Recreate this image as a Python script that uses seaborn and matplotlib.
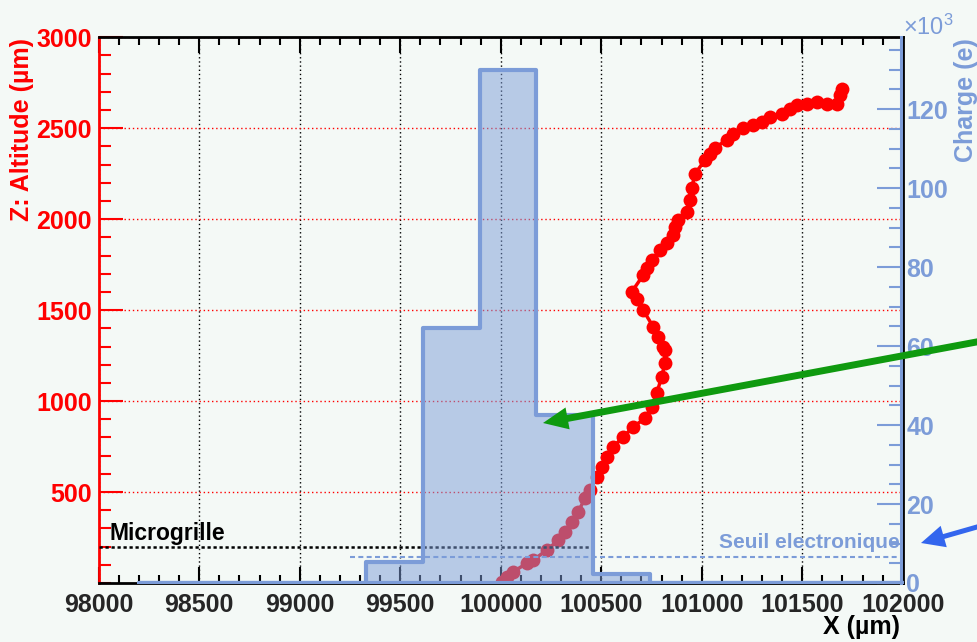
import numpy as np
import matplotlib
matplotlib.use("Agg")
import matplotlib.pyplot as plt
from matplotlib.patches import FancyArrowPatch
from matplotlib.ticker import MultipleLocator, FuncFormatter
import seaborn as sns

# Reconstructed electron track: X position and altitude Z (micrometres)
track_x = [100005, 100030, 100063, 100129, 100162, 100229, 100287, 100320, 100353,
           100386, 100419, 100444, 100478, 100502, 100527, 100560, 100610, 100660,
           100718, 100751, 100776, 100801, 100817, 100817, 100809, 100784, 100759,
           100709, 100677, 100652, 100709, 100726, 100751, 100793, 100826, 100859,
           100867, 100884, 100925, 100942, 100950, 100967, 101016, 101041, 101066,
           101124, 101157, 101207, 101257, 101298, 101340, 101398, 101439, 101473,
           101522, 101572, 101622, 101672, 101688, 101696]
track_z = [4, 35, 62, 108, 126, 181, 236, 282, 337,
           392, 465, 511, 584, 639, 694, 749, 804, 859,
           905, 969, 1042, 1134, 1207, 1280, 1298, 1353, 1408,
           1500, 1564, 1601, 1692, 1729, 1775, 1830, 1867, 1912,
           1958, 1995, 2040, 2105, 2169, 2251, 2324, 2361, 2394,
           2434, 2471, 2499, 2517, 2535, 2562, 2581, 2608, 2627,
           2636, 2645, 2636, 2636, 2682, 2718]

# Charge collected on each readout pad (electrons)
pad_edges = [98200, 98483, 98765, 99048, 99330, 99613, 99895, 100178,
             100460, 100743, 101025, 101308, 101590, 101873, 102155]
pad_charge = [0, 0, 0, 0, 5300, 64600, 130000, 42500, 2300, 0, 0, 0, 0, 0]

# Micromesh height and electronics threshold
microgrille_z = 200
microgrille_x = [98000, 100478]
threshold_charge = 6500
threshold_x = [99250, 102000]

x_ticks = [98000, 98500, 99000, 99500, 100000, 100500, 101000, 101500, 102000]
z_ticks = [500, 1000, 1500, 2000, 2500, 3000]
charge_ticks = [0, 20000, 40000, 60000, 80000, 100000, 120000]

BG = "#f4f9f6"
RED = "#ff0000"
BLUE = "#7c9cd8"
GREEN = "#0f9a0f"
ARROW_BLUE = "#3366ee"

sns.set_style("white", {"axes.facecolor": BG, "figure.facecolor": BG})
plt.rcParams["font.family"] = ["Liberation Sans", "DejaVu Sans"]
plt.rcParams["font.weight"] = "bold"
plt.rcParams["mathtext.default"] = "regular"

W, H = 978, 642
fig = plt.figure(figsize=(W / 100, H / 100), dpi=100)
L, R, B, T = 98.7 / W, 902.7 / W, 1 - 583 / H, 1 - 37.3 / H
ax = fig.add_axes([L, B, R - L, T - B])
ax2 = ax.twinx()
ax2.patch.set_visible(False)

ax.set_xlim(98000, 102000)
ax.set_ylim(0, 3000)
ax2.set_ylim(0, 138200)

# grid: black verticals, red horizontals
ax.xaxis.grid(True, which="major", color="black", linestyle=(0, (1, 2)), linewidth=1.0)
ax.yaxis.grid(True, which="major", color=RED, linestyle=(0, (1, 2)), linewidth=1.0)

# electron track
sns.lineplot(x=track_x, y=track_z, sort=False, estimator=None, ax=ax,
             color=RED, linewidth=2.5, marker="o", markersize=10,
             markeredgewidth=0, zorder=3)

# micromesh line and label
ax.plot(microgrille_x, [microgrille_z, microgrille_z], color="black",
        linewidth=1.8, linestyle=(0, (1.3, 1.1)), zorder=4)
ax.text(98056, 236, "Microgrille", ha="left", va="baseline",
        fontsize=16.5, fontweight="bold", color="black")

# collected charge per pad
centers = [(a + b) / 2 for a, b in zip(pad_edges[:-1], pad_edges[1:])]
sns.histplot(x=centers, weights=pad_charge, bins=pad_edges, element="step",
             fill=True, ax=ax2, color=BLUE, facecolor=(0.486, 0.612, 0.847, 0.5),
             edgecolor=BLUE, linewidth=3)

# threshold line and label
ax2.plot(threshold_x, [threshold_charge, threshold_charge], color=BLUE,
         linewidth=1.5, linestyle=(0, (2.4, 1.6)), zorder=4)
ax.text(101987, 192, "Seuil electronique", ha="right", va="baseline",
        fontsize=15, fontweight="bold", color=BLUE)

ax.set_xlabel("")
ax.set_ylabel("")
ax2.set_ylabel("")
ax2.set_ylim(0, 138200)

# axis ticks
ax.set_xticks(x_ticks)
ax.xaxis.set_minor_locator(MultipleLocator(100))
ax.set_yticks(z_ticks)
ax.yaxis.set_minor_locator(MultipleLocator(100))
ax.tick_params(axis="x", which="both", direction="in", top=True, bottom=True,
               color="black", width=1.5, labelsize=18, pad=7)
ax.tick_params(axis="x", which="major", length=11.5)
ax.tick_params(axis="x", which="minor", length=5.8)
ax.tick_params(axis="y", which="both", direction="in", left=True, right=False,
               color=RED, labelcolor=RED, width=1.5, labelsize=18, pad=5)
ax.tick_params(axis="y", which="major", length=17.3)
ax.tick_params(axis="y", which="minor", length=8.6)

ax2.set_yticks(charge_ticks)
ax2.yaxis.set_minor_locator(MultipleLocator(5000))
ax2.yaxis.set_major_formatter(FuncFormatter(lambda v, _: f"{v / 1000:.0f}"))
ax2.tick_params(axis="y", which="both", direction="in", right=True, left=False,
                color=BLUE, labelcolor=BLUE, width=1.5, labelsize=18, pad=4)
ax2.tick_params(axis="y", which="major", length=17.3)
ax2.tick_params(axis="y", which="minor", length=8.6)

for name in ["left", "top", "bottom"]:
    ax2.spines[name].set_visible(False)
ax2.spines["right"].set_color(BLUE)
ax2.spines["right"].set_linewidth(2.2)
ax2.spines["right"].set_position(("outward", -1.5))

ax.spines["left"].set_color(RED)
ax.spines["left"].set_linewidth(2)
for name in ["bottom", "top", "right"]:
    ax.spines[name].set_color("black")
    ax.spines[name].set_linewidth(2)

# axis titles
fig.text(22 / W, 1 - 38 / H, "Z: Altitude (µm)", rotation=90, ha="center", va="top",
         color=RED, fontsize=18, fontweight="bold")
fig.text(966 / W, 1 - 38 / H, "Charge (e)", rotation=90, ha="center", va="top",
         color=BLUE, fontsize=18, fontweight="bold")
fig.text(903 / W, 1 - 27 / H, r"$\times10^{3}$", ha="left", va="center",
         color=BLUE, fontsize=17, fontweight="normal")
fig.text(900 / W, 1 - 627 / H, "X (µm)", ha="right", va="center",
         color="black", fontsize=18, fontweight="bold")

# pointers
green_arrow = FancyArrowPatch((1.0, 1 - 341.7 / H), (543 / W, 1 - 423 / H),
                              transform=fig.transFigure,
                              arrowstyle="simple,head_length=0.9,head_width=0.8,tail_width=0.25",
                              mutation_scale=20, color=GREEN, lw=0,
                              shrinkA=0, shrinkB=0)
blue_arrow = FancyArrowPatch((1.0, 1 - 526.7 / H), (921 / W, 1 - 543 / H),
                             transform=fig.transFigure,
                             arrowstyle="simple,head_length=0.85,head_width=0.8,tail_width=0.18",
                             mutation_scale=20, color=ARROW_BLUE, lw=0,
                             shrinkA=0, shrinkB=0)
fig.add_artist(green_arrow)
fig.add_artist(blue_arrow)

fig.savefig("out.png", dpi=100, facecolor=BG)
